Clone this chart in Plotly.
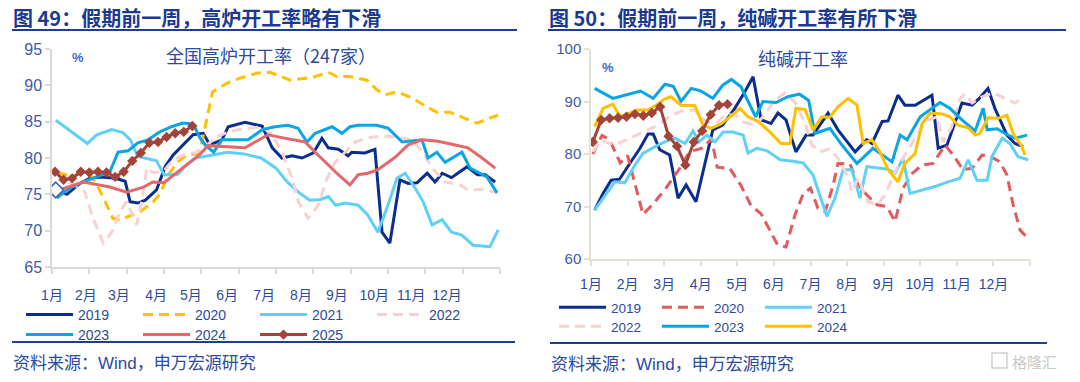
import plotly.graph_objects as go

W, H = 1080, 382
def px(x): return x / W
def py(y): return 1 - y / H

months = ["1月", "2月", "3月", "4月", "5月", "6月", "7月", "8月", "9月", "10月", "11月", "12月"]

# ---------------- Left chart: 全国高炉开工率（247家） ----------------
L19_x = [0.1, 0.4, 0.75, 1.0, 1.3, 1.7, 1.96, 2.09, 2.3, 2.5, 2.8, 3.03, 3.24, 3.5, 3.78, 4.05, 4.23, 4.55, 4.72, 5.17, 5.63, 5.9, 6.16, 6.43, 6.7, 7.0, 7.23, 7.4, 7.67, 7.93, 8.03, 8.38, 8.65, 8.84, 9.05, 9.32, 9.54, 9.78, 10.05, 10.26, 10.45, 10.7, 11.12, 11.4, 11.6, 11.87]
L19_y = [75.6, 75.0, 76.5, 77.2, 77.4, 77.2, 76.8, 74.0, 73.8, 74.2, 75.6, 78.8, 80.4, 81.8, 83.2, 83.4, 81.8, 82.5, 84.3, 84.9, 84.4, 81.4, 80.0, 80.3, 80.0, 80.7, 82.7, 81.4, 81.2, 80.3, 80.8, 80.7, 81.2, 69.8, 68.3, 77.0, 76.5, 76.6, 77.9, 76.7, 77.9, 77.3, 78.8, 77.7, 77.7, 76.7]

L20_x = [0.15, 0.5, 0.9, 1.1, 1.38, 1.63, 1.82, 2.09, 2.36, 2.7, 2.9, 3.08, 3.35, 3.6, 3.88, 4.0, 4.15, 4.3, 4.69, 5.04, 5.5, 5.84, 6.38, 6.99, 7.4, 7.63, 7.98, 8.44, 8.7, 8.92, 9.24, 9.67, 10.05, 10.31, 10.66, 11.0, 11.38, 11.73, 11.95]
L20_y = [78.0, 77.5, 78.0, 77.3, 74.5, 71.7, 71.5, 72.1, 72.6, 73.9, 75.1, 77.4, 79.4, 80.4, 80.6, 81.8, 85.5, 89.1, 90.3, 91.0, 91.7, 91.8, 90.7, 91.1, 91.8, 91.2, 91.2, 90.7, 89.4, 88.7, 89.1, 88.2, 87.0, 86.3, 86.3, 85.6, 84.8, 85.5, 85.9]

L21_x = [0.1, 0.95, 1.2, 1.6, 1.9, 2.1, 2.3, 2.8, 3.0, 3.35, 3.6, 3.85, 4.3, 4.7, 5.1, 5.6, 6.0, 6.3, 6.6, 6.9, 7.2, 7.4, 7.6, 7.85, 8.2, 8.45, 8.73, 8.97, 9.24, 9.46, 9.72, 9.94, 10.18, 10.45, 10.7, 10.98, 11.28, 11.73, 11.95]
L21_y = [85.2, 82.0, 83.2, 83.9, 83.5, 82.5, 80.2, 79.6, 77.7, 77.7, 79.0, 80.0, 80.4, 80.8, 80.6, 80.0, 78.6, 76.7, 75.3, 74.2, 74.3, 74.7, 73.5, 73.8, 73.5, 72.2, 69.8, 73.1, 77.2, 77.9, 75.9, 74.0, 70.8, 71.5, 69.8, 69.4, 68.0, 67.8, 70.1]

L22_x = [0.13, 0.48, 0.7, 0.88, 1.1, 1.37, 1.6, 1.82, 2.0, 2.27, 2.4, 2.54, 2.7, 2.97, 3.24, 3.51, 3.88, 4.1, 4.37, 4.63, 4.98, 5.36, 5.63, 5.9, 6.16, 6.43, 6.6, 6.86, 7.13, 7.37, 7.58, 7.85, 8.12, 8.57, 9.0, 9.32, 9.64, 9.94, 10.18, 10.53, 10.93, 11.14, 11.6, 11.92]
L22_y = [74.9, 76.5, 76.0, 75.3, 71.7, 68.3, 69.8, 72.6, 74.0, 70.8, 74.0, 78.6, 78.0, 78.1, 79.7, 80.4, 80.8, 81.5, 82.8, 83.4, 83.9, 84.1, 84.3, 83.2, 80.8, 77.2, 74.0, 71.7, 73.5, 77.2, 79.4, 80.8, 82.2, 82.9, 83.0, 82.8, 82.5, 80.8, 78.6, 76.7, 76.3, 75.6, 75.7, 75.2]

L23_x = [0.13, 0.48, 0.83, 1.2, 1.55, 1.77, 2.04, 2.3, 2.57, 2.89, 3.2, 3.5, 3.78, 3.96, 4.1, 4.33, 4.55, 4.9, 5.25, 5.63, 5.97, 6.32, 6.59, 6.83, 7.05, 7.5, 7.77, 7.98, 8.2, 8.7, 9.0, 9.38, 9.91, 10.07, 10.31, 10.53, 10.98, 11.2, 11.65, 11.92]
L23_y = [74.5, 75.9, 76.7, 77.4, 78.1, 80.8, 81.0, 82.1, 82.5, 83.6, 84.3, 84.8, 84.7, 82.8, 81.8, 80.8, 82.5, 82.5, 82.5, 83.9, 84.3, 84.5, 84.1, 82.2, 83.4, 84.3, 83.4, 84.3, 84.5, 84.5, 84.1, 82.2, 82.5, 80.0, 80.8, 79.4, 80.8, 78.6, 77.4, 75.2]

L24_x = [0.13, 0.84, 1.55, 2.0, 2.45, 2.7, 3.0, 3.43, 3.96, 4.18, 4.63, 5.17, 5.44, 5.79, 6.16, 6.51, 6.78, 7.05, 7.4, 7.67, 7.98, 8.2, 8.46, 8.73, 9.19, 9.54, 9.91, 10.34, 10.8, 11.14, 11.52, 11.87]
L24_y = [75.5, 76.7, 76.0, 75.3, 76.0, 76.7, 76.6, 78.4, 80.5, 81.7, 81.6, 81.4, 82.2, 83.2, 82.8, 82.5, 82.2, 80.8, 79.0, 77.7, 76.3, 77.7, 77.9, 78.4, 80.1, 81.8, 82.5, 82.3, 81.8, 81.4, 80.0, 78.6]

L25_x = [0.08, 0.31, 0.54, 0.77, 1.0, 1.23, 1.46, 1.69, 1.92, 2.15, 2.38, 2.61, 2.84, 3.07, 3.3, 3.53, 3.76]
L25_y = [78.1, 77.0, 77.2, 78.1, 78.0, 78.1, 78.0, 77.4, 78.1, 79.6, 80.7, 82.1, 82.2, 82.9, 83.4, 83.6, 84.4]

# ---------------- Right chart: 纯碱开工率 ----------------
R19_x = [0.1, 0.33, 0.55, 0.78, 1.06, 1.34, 1.56, 1.7, 1.88, 2.15, 2.38, 2.6, 2.87, 3.14, 3.33, 3.6, 3.93, 4.21, 4.43, 4.65, 4.92, 5.11, 5.33, 5.6, 5.88, 6.07, 6.48, 6.75, 7.22, 7.54, 7.68, 7.96, 8.12, 8.39, 8.58, 8.86, 9.32, 9.49, 9.73, 10.14, 10.42, 10.6, 10.85, 11.04, 11.37, 11.59, 11.81]
R19_y = [69.3, 72.5, 75.0, 75.2, 78.2, 81.1, 83.8, 83.8, 80.8, 79.8, 71.6, 74.1, 70.9, 79.2, 84.6, 85.5, 88.7, 91.9, 94.7, 86.5, 85.8, 87.8, 86.5, 80.4, 83.6, 83.6, 87.8, 84.6, 80.4, 82.7, 82.0, 86.2, 86.3, 91.2, 89.3, 89.3, 91.2, 81.1, 81.7, 89.7, 89.3, 90.5, 92.5, 88.7, 83.6, 82.0, 81.4]

R20_x = [0.05, 0.3, 0.5, 0.8, 1.0, 1.42, 1.7, 2.05, 2.4, 2.7, 3.0, 3.3, 3.45, 3.8, 4.1, 4.37, 4.65, 4.92, 5.1, 5.33, 5.58, 5.8, 6.0, 6.2, 6.4, 6.62, 6.75, 7.08, 7.3, 7.54, 7.82, 8.09, 8.31, 8.53, 8.78, 9.05, 9.35, 9.68, 9.9, 10.17, 10.42, 10.69, 10.9, 11.18, 11.37, 11.54, 11.73, 11.95]
R20_y = [80.0, 83.5, 82.8, 78.3, 79.7, 68.5, 70.5, 73.5, 77.0, 80.5, 81.0, 82.8, 77.5, 77.2, 74.0, 70.2, 68.6, 65.0, 62.7, 62.3, 68.5, 72.4, 73.5, 69.7, 69.0, 74.1, 78.2, 78.1, 74.1, 72.2, 70.3, 70.0, 67.1, 73.5, 76.3, 77.9, 78.2, 81.7, 79.8, 77.0, 77.3, 79.8, 79.6, 78.5, 76.0, 70.3, 65.5, 63.9]

R21_x = [0.1, 0.33, 0.65, 0.92, 1.2, 1.42, 1.75, 2.02, 2.3, 2.57, 2.79, 2.95, 3.17, 3.39, 3.61, 3.88, 4.16, 4.29, 4.54, 4.81, 5.17, 5.52, 5.8, 6.07, 6.26, 6.45, 6.67, 6.89, 7.13, 7.35, 7.54, 7.82, 8.12, 8.31, 8.53, 8.72, 9.05, 9.4, 9.76, 10.09, 10.31, 10.55, 10.83, 10.96, 11.24, 11.45, 11.67, 11.95]
R21_y = [69.3, 71.6, 74.7, 74.5, 77.9, 80.1, 81.4, 82.3, 83.0, 82.0, 84.4, 82.3, 83.6, 82.3, 84.2, 84.2, 83.6, 80.2, 81.1, 80.6, 78.9, 78.6, 78.3, 76.0, 72.2, 68.1, 71.6, 77.0, 77.0, 71.6, 77.6, 77.4, 77.1, 76.3, 79.2, 72.5, 73.1, 73.8, 74.7, 75.4, 78.9, 75.0, 75.0, 79.5, 83.0, 82.0, 79.5, 78.9]

R22_x = [0.05, 0.27, 0.65, 1.0, 1.37, 1.75, 2.1, 2.46, 2.84, 3.0, 3.25, 3.45, 3.65, 3.93, 4.2, 4.5, 4.75, 5.03, 5.3, 5.6, 5.85, 6.04, 6.26, 6.53, 6.75, 7.0, 7.13, 7.3, 7.57, 7.82, 8.04, 8.31, 8.58, 8.86, 9.13, 9.46, 9.62, 9.85, 10.09, 10.22, 10.42, 10.69, 10.99, 11.32, 11.59, 11.81]
R22_y = [80.4, 82.6, 81.7, 82.8, 84.0, 85.2, 86.9, 88.2, 88.4, 87.0, 85.9, 86.0, 87.4, 87.5, 86.0, 85.5, 87.5, 90.3, 91.6, 89.7, 85.8, 81.7, 80.4, 81.0, 79.2, 76.0, 72.8, 75.4, 70.9, 70.3, 72.2, 76.6, 79.8, 83.0, 86.2, 87.1, 82.3, 85.0, 90.6, 91.4, 89.7, 90.9, 91.6, 90.6, 89.7, 90.9]

R23_x = [0.1, 0.6, 0.92, 1.35, 1.7, 2.02, 2.25, 2.46, 2.74, 3.0, 3.33, 3.6, 3.84, 4.1, 4.5, 4.7, 5.06, 5.38, 5.7, 5.95, 6.12, 6.53, 6.86, 7.27, 7.71, 8.23, 8.45, 8.64, 9.0, 9.32, 9.54, 9.81, 10.14, 10.5, 10.72, 10.83, 11.1, 11.32, 11.59, 11.92]
R23_y = [92.5, 90.6, 91.2, 92.0, 90.6, 93.3, 92.9, 90.0, 92.5, 92.0, 90.6, 93.1, 94.2, 92.8, 87.1, 90.0, 89.8, 90.9, 91.4, 90.2, 83.9, 84.9, 81.7, 78.2, 81.1, 78.5, 83.6, 82.7, 87.1, 88.7, 89.8, 88.7, 86.5, 84.4, 88.7, 84.6, 84.8, 83.9, 83.0, 83.6]

R24_x = [0.1, 0.33, 0.6, 0.79, 1.28, 1.56, 1.78, 2.02, 2.19, 2.46, 2.84, 3.06, 3.28, 3.55, 3.8, 4.07, 4.29, 4.57, 4.89, 5.19, 5.44, 5.6, 5.85, 6.07, 6.31, 6.53, 6.75, 7.03, 7.27, 7.44, 7.68, 7.9, 8.12, 8.39, 8.58, 8.86, 9.05, 9.27, 9.6, 9.81, 10.03, 10.31, 10.5, 10.63, 10.85, 11.13, 11.37, 11.54, 11.78, 11.86]
R24_y = [85.2, 88.7, 89.5, 87.1, 88.4, 88.4, 89.3, 90.5, 90.9, 89.3, 89.2, 85.5, 84.9, 85.7, 87.1, 88.7, 87.1, 86.2, 84.2, 82.0, 82.0, 88.7, 88.5, 84.6, 87.1, 87.0, 89.0, 90.6, 89.3, 82.0, 82.7, 80.4, 77.0, 74.7, 78.2, 80.1, 85.8, 87.8, 87.6, 87.1, 85.5, 85.0, 83.6, 83.9, 86.9, 86.8, 87.4, 83.9, 81.4, 79.8]

R25_x = [0.05, 0.28, 0.51, 0.74, 0.97, 1.2, 1.43, 1.66, 1.89, 2.12, 2.35, 2.58, 2.81, 3.04, 3.27, 3.5, 3.73]
R25_y = [82.3, 86.5, 86.8, 86.9, 87.1, 87.6, 87.3, 87.8, 89.0, 83.4, 81.5, 77.9, 82.3, 84.4, 87.5, 89.3, 89.5]

# ---------------- styles ----------------
NAVY = "#0B2E8E"
GOLD = "#FFC000"
SKY = "#5FD0F8"
PINK = "#F8D2D2"
BLUE = "#0AA5E2"
CORAL = "#E2686A"
RED = "#E05A5E"
BROWN = "#A3443B"
TXT = "#2C4A9E"
AX_L = "#D9D9D9"
AX_R = "#E4E1D4"
FONT = "Liberation Sans, Noto Sans CJK SC, sans-serif"
CJK = "Noto Sans CJK SC"
DASH = "10px,6px"

fig = go.Figure()

def add(x, y, name, color, xa, ya, leg, dash="solid", width=3, marker=False, show=True):
    kw = dict(x=x, y=y, name=name, xaxis=xa, yaxis=ya, legend=leg, showlegend=show,
              line=dict(color=color, width=width, dash=dash), hoverinfo="skip")
    if marker:
        kw["mode"] = "lines+markers"
        kw["marker"] = dict(symbol="diamond", size=8, color=color)
    else:
        kw["mode"] = "lines"
    fig.add_trace(go.Scatter(**kw))

# left
add(L19_x, L19_y, "2019", NAVY, "x", "y", "legend")
add(L20_x, L20_y, "2020", GOLD, "x", "y", "legend", dash=DASH)
add(L21_x, L21_y, "2021", SKY, "x", "y", "legend")
add(L22_x, L22_y, "2022", PINK, "x", "y", "legend", dash=DASH)
add(L23_x, L23_y, "2023", BLUE, "x", "y", "legend2")
add(L24_x, L24_y, "2024", CORAL, "x", "y", "legend2")
add(L25_x, L25_y, "2025", BROWN, "x", "y", "legend2", marker=True)
fig.add_trace(go.Scatter(x=L19_x[:1], y=L19_y[:1], mode="markers", xaxis="x", yaxis="y",
                         showlegend=False, hoverinfo="skip",
                         marker=dict(symbol="diamond", size=12, color="white",
                                     line=dict(color="#3E62A8", width=1.6))))

# right
add(R19_x, R19_y, "2019", NAVY, "x2", "y2", "legend3")
add(R20_x, R20_y, "2020", RED, "x2", "y2", "legend3", dash=DASH)
add(R21_x, R21_y, "2021", SKY, "x2", "y2", "legend3")
add(R22_x, R22_y, "2022", PINK, "x2", "y2", "legend4", dash=DASH)
add(R23_x, R23_y, "2023", BLUE, "x2", "y2", "legend4")
add(R24_x, R24_y, "2024", GOLD, "x2", "y2", "legend4")
add(R25_x, R25_y, "2025", BROWN, "x2", "y2", "legend4", marker=True, show=False)

left_label_pos = [0.0, 0.91, 1.79, 2.79, 3.72, 4.69, 5.68, 6.67, 7.63, 8.63, 9.62, 10.58]

def legend_cfg(x0, ytop, size, ew):
    return dict(orientation="h", x=px(x0), y=py(ytop), xanchor="left", yanchor="top",
                itemwidth=47, entrywidth=ew, entrywidthmode="pixels",
                font=dict(family=FONT, size=size, color=TXT), bgcolor="rgba(0,0,0,0)",
                borderwidth=0, itemclick=False, itemdoubleclick=False)

def note(text, x, y, size, color=TXT, family=FONT, xanchor="left"):
    return dict(text=text, x=px(x), y=py(y), xref="paper", yref="paper",
                xanchor=xanchor, yanchor="middle", showarrow=False,
                font=dict(size=size, color=color, family=family))

annotations = [
    note("<b>图 49：假期前一周，高炉开工率略有下滑</b>", 11, 17, 20, "#1B3A8F", CJK),
    note("<b>图 50：假期前一周，纯碱开工率有所下滑</b>", 547, 17, 20, "#1B3A8F", CJK),
    note("全国高炉开工率（247家）", 164, 55, 18, TXT, CJK),
    note("纯碱开工率", 756, 58, 18, TXT, CJK),
    note("<b>%</b>", 78, 57, 13, "#4A68C8", FONT, "center"),
    note("<b>%</b>", 608, 67, 13, "#4A68C8", FONT, "center"),
    note("资料来源：Wind，申万宏源研究", 11, 363, 17, TXT, FONT),
    note("资料来源：Wind，申万宏源研究", 549, 364, 17, TXT, FONT),
    note("格隆汇", 1010, 361, 15, "#C9C9C9", CJK),
]

shapes = [
    dict(type="line", xref="paper", yref="paper", x0=px(12), x1=px(517), y0=py(30), y1=py(30),
         line=dict(color="#1F3C98", width=2)),
    dict(type="line", xref="paper", yref="paper", x0=px(548), x1=px(1066), y0=py(30), y1=py(30),
         line=dict(color="#1F3C98", width=2)),
    dict(type="line", xref="paper", yref="paper", x0=px(12), x1=px(515), y0=py(342), y1=py(342),
         line=dict(color="#1F3C98", width=2)),
    dict(type="line", xref="paper", yref="paper", x0=px(550), x1=px(1047), y0=py(343), y1=py(343),
         line=dict(color="#1F3C98", width=2)),
    dict(type="rect", xref="paper", yref="paper", x0=px(992), x1=px(1007), y0=py(368), y1=py(353),
         line=dict(color="#CFCFCF", width=1.5)),
]

fig.update_layout(
    width=W, height=H, margin=dict(l=0, r=0, t=0, b=0, pad=0, autoexpand=False),
    paper_bgcolor="white", plot_bgcolor="white",
    font=dict(family=FONT, color=TXT),
    xaxis=dict(domain=[px(52), px(500)], range=[0, 12], anchor="y", automargin=False,
               showline=True, linecolor=AX_L, linewidth=1.5, showgrid=False, zeroline=False,
               tickmode="array", tickvals=left_label_pos, ticktext=months, ticks="", ticklen=0,
               ticklabelstandoff=14, tickfont=dict(size=14, color=TXT, family=FONT),
               minor=dict(tickmode="array", tickvals=list(range(13)), ticks="outside", ticklen=5,
                          tickcolor=AX_L, tickwidth=1.5, showgrid=False)),
    yaxis=dict(domain=[py(267), py(49)], range=[65, 95], anchor="x", dtick=5, tick0=65, automargin=False,
               showline=True, linecolor=AX_L, linewidth=1.5, showgrid=False, zeroline=False,
               ticks="outside", ticklen=5, tickcolor=AX_L, tickwidth=1.5,
               tickfont=dict(size=16, color="#3F5AAA", family=FONT)),
    xaxis2=dict(domain=[px(591), px(1030)], range=[0, 12], anchor="y2", automargin=False,
                showline=True, linecolor=AX_R, linewidth=1.5, showgrid=False, zeroline=False,
                tickmode="array", tickvals=list(range(13)), ticktext=months + [""],
                ticks="outside", ticklen=5, tickcolor=AX_R, tickwidth=1.5, ticklabelstandoff=6,
                tickfont=dict(size=14, color=TXT, family=FONT)),
    yaxis2=dict(domain=[py(259), py(49)], range=[60, 100], anchor="x2", dtick=10, tick0=60, automargin=False,
                showline=True, linecolor=AX_R, linewidth=1.5, showgrid=False, zeroline=False,
                ticks="outside", ticklen=5, tickcolor=AX_R, tickwidth=1.5,
                tickfont=dict(size=15, color="#3F5AAA", family=FONT)),
    legend=legend_cfg(21, 299, 14, 55),
    legend2=legend_cfg(21, 319, 14, 55),
    legend3=legend_cfg(554, 292, 13.5, 41),
    legend4=legend_cfg(554, 311, 13.5, 41),
    annotations=annotations,
    shapes=shapes,
    showlegend=True,
)

fig.write_html("out.html", config={"displayModeBar": False},
               post_script="document.body.style.margin='0px';")
